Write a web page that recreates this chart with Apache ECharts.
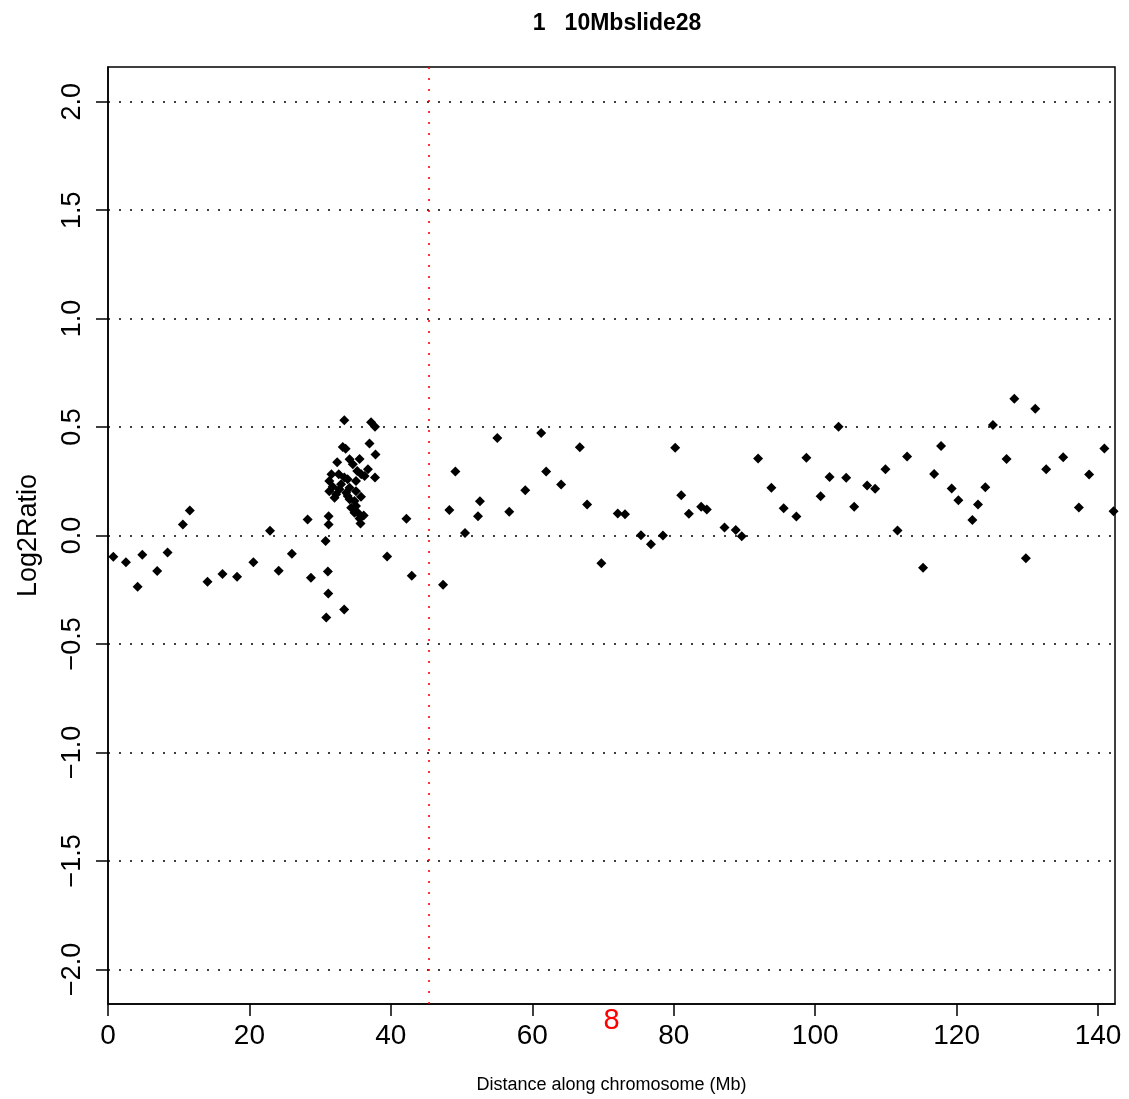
<!DOCTYPE html>
<html>
<head>
<meta charset="utf-8">
<script src="https://cdn.jsdelivr.net/npm/echarts@6/dist/echarts.min.js"></script>
<style>
html,body{margin:0;padding:0;background:#fff;}
#chr8{width:1129px;height:1099px;}
</style>
</head>
<body>
<div id="chr8"></div>
<script>
// position along chromosome (Mb) and log2 ratio
var posMb = [
	0.75, 2.54, 4.19, 4.85, 6.96, 8.42, 10.59, 11.57, 14.07, 16.19,
	18.25, 20.56, 22.91, 24.14, 26.0, 28.23, 28.7, 30.77, 30.86, 31.09,
	31.15, 33.4,
	33.42, 37.2, 37.76, 33.2, 33.6, 36.98, 32.41, 34.16, 35.57, 37.83,
	34.62, 35.25, 36.76, 31.6, 32.63, 33.42, 37.76, 35.81, 36.28, 31.3,
	33.89, 35.07, 31.77, 32.96, 34.16, 31.3, 32.27, 32.73, 33.68, 33.89,
	35.07, 35.78, 32.04, 34.16, 34.86, 35.07, 34.39, 31.2, 34.86, 35.33,
	36.16, 35.57, 31.2, 35.71,
	39.47, 42.2, 42.95, 47.38, 48.27, 49.12, 50.48, 52.32, 52.6, 55.05,
	56.74, 59.0, 61.26, 61.96, 64.08, 66.72, 67.75, 69.77, 72.08, 73.11,
	75.37, 76.78, 78.47, 80.21, 81.06, 82.14, 83.88, 84.68, 87.18, 88.77,
	89.62, 91.93, 93.81, 95.55, 97.34, 98.76, 100.77, 102.04, 103.31, 104.39,
	105.52, 107.35, 108.48, 109.94, 111.64, 113.0, 115.26, 116.82, 117.8, 119.31,
	120.25, 122.23, 123.03, 124.06, 125.14, 127.07, 128.16, 129.8, 131.12, 132.67,
	135.07, 137.29, 138.74, 140.9, 142.2
];
var log2Ratio = [
	-0.098, -0.123, -0.236, -0.089, -0.164, -0.078, 0.051, 0.115, -0.213, -0.178,
	-0.190, -0.123, 0.022, -0.163, -0.084, 0.074, -0.195, -0.025, -0.378, -0.166,
	-0.267, -0.341,
	0.531, 0.522, 0.501, 0.408, 0.400, 0.424, 0.338, 0.351, 0.353, 0.374,
	0.328, 0.297, 0.305, 0.282, 0.282, 0.267, 0.267, 0.282, 0.274, 0.251,
	0.259, 0.251, 0.225, 0.236, 0.220, 0.204, 0.190, 0.213, 0.197, 0.182,
	0.204, 0.179, 0.174, 0.167, 0.159, 0.136, 0.128, 0.089, 0.105, 0.105,
	0.092, 0.078, 0.051, 0.055,
	-0.097, 0.077, -0.186, -0.227, 0.117, 0.295, 0.012, 0.089, 0.158, 0.450,
	0.109, 0.209, 0.473, 0.295, 0.235, 0.407, 0.143, -0.128, 0.101, 0.098,
	0.001, -0.040, 0.0, 0.404, 0.186, 0.100, 0.132, 0.120, 0.037, 0.025,
	-0.003, 0.355, 0.220, 0.126, 0.088, 0.358, 0.181, 0.270, 0.501, 0.266,
	0.132, 0.230, 0.215, 0.306, 0.023, 0.364, -0.149, 0.284, 0.413, 0.217,
	0.163, 0.071, 0.143, 0.223, 0.510, 0.353, 0.631, -0.105, 0.584, 0.306,
	0.361, 0.129, 0.281, 0.401, 0.112
];
var xTicks = [0, 20, 40, 60, 80, 100, 120, 140];
var yTicks = [-2, -1.5, -1, -0.5, 0, 0.5, 1, 1.5, 2];
var xRange = [0, 142.4];
var yRange = [-2.16, 2.16];
var centromere = 45.3;   // red dotted line
var chromName = '8';
var slideTitle = '1   10Mbslide28';

var FONT = 'Liberation Sans, Arial, Helvetica, sans-serif';
var dotted = [2, 9];

var points = [];
for (var i = 0; i < posMb.length; i++) {
	points.push([posMb[i], log2Ratio[i]]);
}
var hLines = [];
for (var j = 0; j < yTicks.length; j++) {
	hLines.push({ yAxis: yTicks[j] });
}

var myChart = echarts.init(document.getElementById('chr8'), null, { renderer: 'canvas' });
var option = {
	backgroundColor: '#fff',
	animation: false,
	title: {
		text: slideTitle,
		left: 612,
		top: 7,
		textAlign: 'center',
		textStyle: { fontFamily: FONT, fontSize: 23, fontWeight: 'bold', color: '#000' }
	},
	grid: {
		left: 108, right: 14, top: 67, bottom: 94,
		show: true,
		borderColor: '#000',
		borderWidth: 1.5,
		backgroundColor: 'transparent'
	},
	xAxis: {
		type: 'value',
		min: xRange[0],
		max: xRange[1],
		name: 'Distance along chromosome (Mb)',
		nameLocation: 'middle',
		nameGap: 72,
		nameTextStyle: { fontFamily: FONT, fontSize: 18, color: '#000' },
		axisLine: { show: true, onZero: false, lineStyle: { color: '#000', width: 1.5 } },
		axisTick: { show: true, customValues: xTicks, length: 12, lineStyle: { color: '#000', width: 1.5 } },
		axisLabel: {
			customValues: xTicks,
			margin: 18,
			fontFamily: FONT, fontSize: 28, color: '#000'
		},
		splitLine: { show: false }
	},
	yAxis: {
		type: 'value',
		min: yRange[0],
		max: yRange[1],
		name: 'Log2Ratio',
		nameLocation: 'middle',
		nameRotate: 90,
		nameGap: 66,
		nameTextStyle: { fontFamily: FONT, fontSize: 27, color: '#000' },
		axisLine: { show: true, onZero: false, lineStyle: { color: '#000', width: 1.5 } },
		axisTick: { show: true, customValues: yTicks, length: 12, lineStyle: { color: '#000', width: 1.5 } },
		axisLabel: {
			customValues: yTicks,
			rotate: 90,
			margin: 22,
			fontFamily: FONT, fontSize: 27, color: '#000',
			formatter: function (v) {
				return v.toFixed(1).replace('-', '\u2212');
			}
		},
		splitLine: { show: false }
	},
	series: [{
		name: 'grid',
		type: 'line',
		data: [],
		silent: true,
		markLine: {
			silent: true,
			symbol: 'none',
			animation: false,
			label: { show: false },
			lineStyle: { color: '#000', type: dotted, width: 1.6 },
			data: hLines
		}
	}, {
		name: 'centromere',
		type: 'line',
		data: [],
		silent: true,
		markLine: {
			silent: true,
			symbol: 'none',
			animation: false,
			label: { show: false },
			lineStyle: { color: '#ff0000', type: dotted, width: 1.6 },
			data: [{ xAxis: centromere }]
		}
	}, {
		name: 'log2ratio',
		type: 'scatter',
		symbol: 'diamond',
		symbolSize: 10,
		itemStyle: { color: '#000', opacity: 1 },
		data: points,
		z: 5
	}]
};
myChart.setOption(option);

// chromosome number under the axis, centred on the chromosome
var midPx = myChart.convertToPixel({ xAxisIndex: 0 }, (xRange[0] + xRange[1]) / 2);
var bottomPx = myChart.convertToPixel({ yAxisIndex: 0 }, yRange[0]);
myChart.setOption({
	graphic: [{
		type: 'text',
		x: midPx,
		y: bottomPx + 17,
		style: {
			text: chromName,
			fill: '#ff0000',
			font: '29px ' + FONT,
			textAlign: 'center',
			textVerticalAlign: 'middle'
		}
	}]
});
</script>
</body>
</html>
